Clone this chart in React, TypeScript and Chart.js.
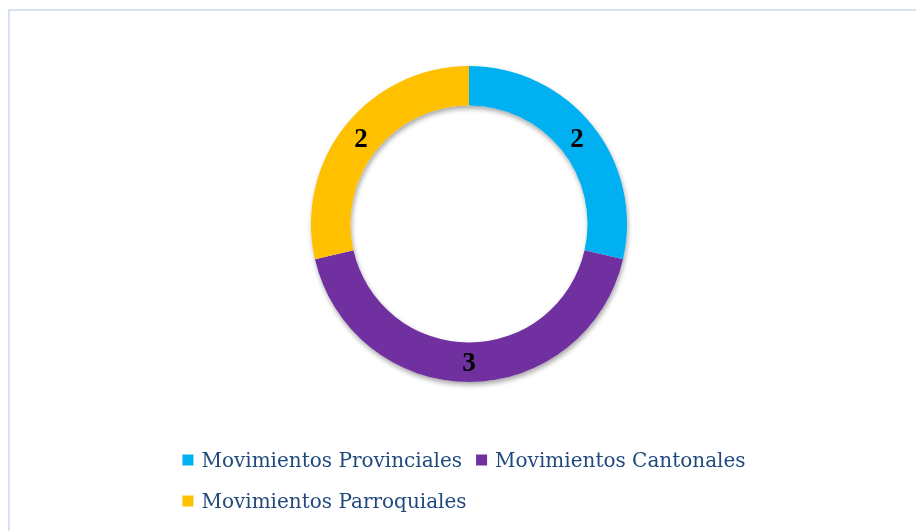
import React, { useEffect, useRef } from 'react';
import { Chart, registerables } from 'chart.js';

Chart.register(...registerables);

const categories = ['Movimientos Provinciales', 'Movimientos Cantonales', 'Movimientos Parroquiales'];
const values = [2, 3, 2];
const colors = ['#00B0F0', '#7030A0', '#FFC000'];

const legendFont = '20px "DejaVu Serif"';
const legendColor = '#1F497D';
const labelFont = 'bold 27px "Liberation Serif"';

const ringShadow = {
  id: 'ringShadow',
  beforeDatasetsDraw(chart: any) {
    const meta = chart.getDatasetMeta(0);
    const arc = meta.data[0];
    if (!arc) return;
    const { x, y, outerRadius, innerRadius } = arc.getProps(['x', 'y', 'outerRadius', 'innerRadius'], true);
    const ctx = chart.ctx;
    ctx.save();
    ctx.shadowColor = 'rgba(0,0,0,0.35)';
    ctx.shadowBlur = 5;
    ctx.shadowOffsetX = 1;
    ctx.shadowOffsetY = 3;
    ctx.beginPath();
    ctx.arc(x, y, outerRadius, 0, Math.PI * 2);
    ctx.arc(x, y, innerRadius, 0, Math.PI * 2, true);
    ctx.closePath();
    ctx.fillStyle = '#ffffff';
    ctx.fill();
    ctx.restore();
  },
};

const valueLabels = {
  id: 'valueLabels',
  afterDatasetsDraw(chart: any) {
    const ctx = chart.ctx;
    const meta = chart.getDatasetMeta(0);
    const data = chart.data.datasets[0].data;
    ctx.save();
    ctx.font = labelFont;
    ctx.fillStyle = '#000000';
    ctx.textAlign = 'center';
    ctx.textBaseline = 'alphabetic';
    meta.data.forEach((arc: any, i: number) => {
      const p = arc.tooltipPosition(true);
      ctx.fillText(String(data[i]), p.x, p.y + 9);
    });
    ctx.restore();
  },
};

const wordLegend = {
  id: 'wordLegend',
  afterDraw(chart: any) {
    const ctx = chart.ctx;
    const ca = chart.chartArea;
    const labels: string[] = chart.data.labels;
    const bg: string[] = chart.data.datasets[0].backgroundColor;
    ctx.save();
    ctx.font = legendFont;
    const box = 11;
    const gapText = 8;
    const gapItem = 14;
    const rowH = 41;
    const maxW = 620;
    const items = labels.map((t, i) => ({ t, c: bg[i], w: box + gapText + ctx.measureText(t).width }));
    const rows: any[][] = [[]];
    let rowW = 0;
    items.forEach((it) => {
      const cur = rows[rows.length - 1];
      const add = (cur.length ? gapItem : 0) + it.w;
      if (cur.length && rowW + add > maxW) {
        rows.push([it]);
        rowW = it.w;
      } else {
        cur.push(it);
        rowW += add;
      }
    });
    const widths = rows.map((r) => r.reduce((s, it, k) => s + it.w + (k ? gapItem : 0), 0));
    const blockW = Math.max(...widths);
    const cx = (ca.left + ca.right) / 2 - 5;
    const startX = cx - blockW / 2;
    const firstY = ca.bottom + 78;
    rows.forEach((r, ri) => {
      let x = startX;
      const yc = firstY + ri * rowH;
      r.forEach((it) => {
        ctx.fillStyle = it.c;
        ctx.fillRect(x, yc - box / 2, box, box);
        ctx.fillStyle = legendColor;
        ctx.textAlign = 'left';
        ctx.textBaseline = 'alphabetic';
        ctx.fillText(it.t, x + box + gapText, yc + 7);
        x += it.w + gapItem;
      });
    });
    ctx.restore();
  },
};

export default function App() {
  const ref = useRef<HTMLCanvasElement | null>(null);
  useEffect(() => {
    if (!ref.current) return;
    const chart = new Chart(ref.current, {
      type: 'doughnut',
      data: {
        labels: categories,
        datasets: [
          {
            data: values,
            backgroundColor: colors,
            borderWidth: 0,
            hoverOffset: 0,
          },
        ],
      },
      options: {
        responsive: false,
        animation: false,
        cutout: '75%',
        layout: { padding: { left: 22, right: 0, top: 66, bottom: 149 } },
        events: [],
        plugins: {
          legend: { display: false },
          tooltip: { enabled: false },
        },
      },
      plugins: [ringShadow, valueLabels, wordLegend],
    });
    return () => chart.destroy();
  }, []);
  return (
    <div style={{ position: 'absolute', left: 0, top: 0, width: 916, height: 531, background: '#ffffff', overflow: 'hidden' }}>
      <div
        style={{
          position: 'absolute',
          left: 8,
          top: 9,
          width: 940,
          height: 560,
          borderTop: '2px solid #D7E3F2',
          borderLeft: '2px solid #D7E3F2',
        }}
      />
      <canvas ref={ref} width={916} height={531} style={{ position: 'absolute', left: 0, top: 0 }} />
    </div>
  );
}
